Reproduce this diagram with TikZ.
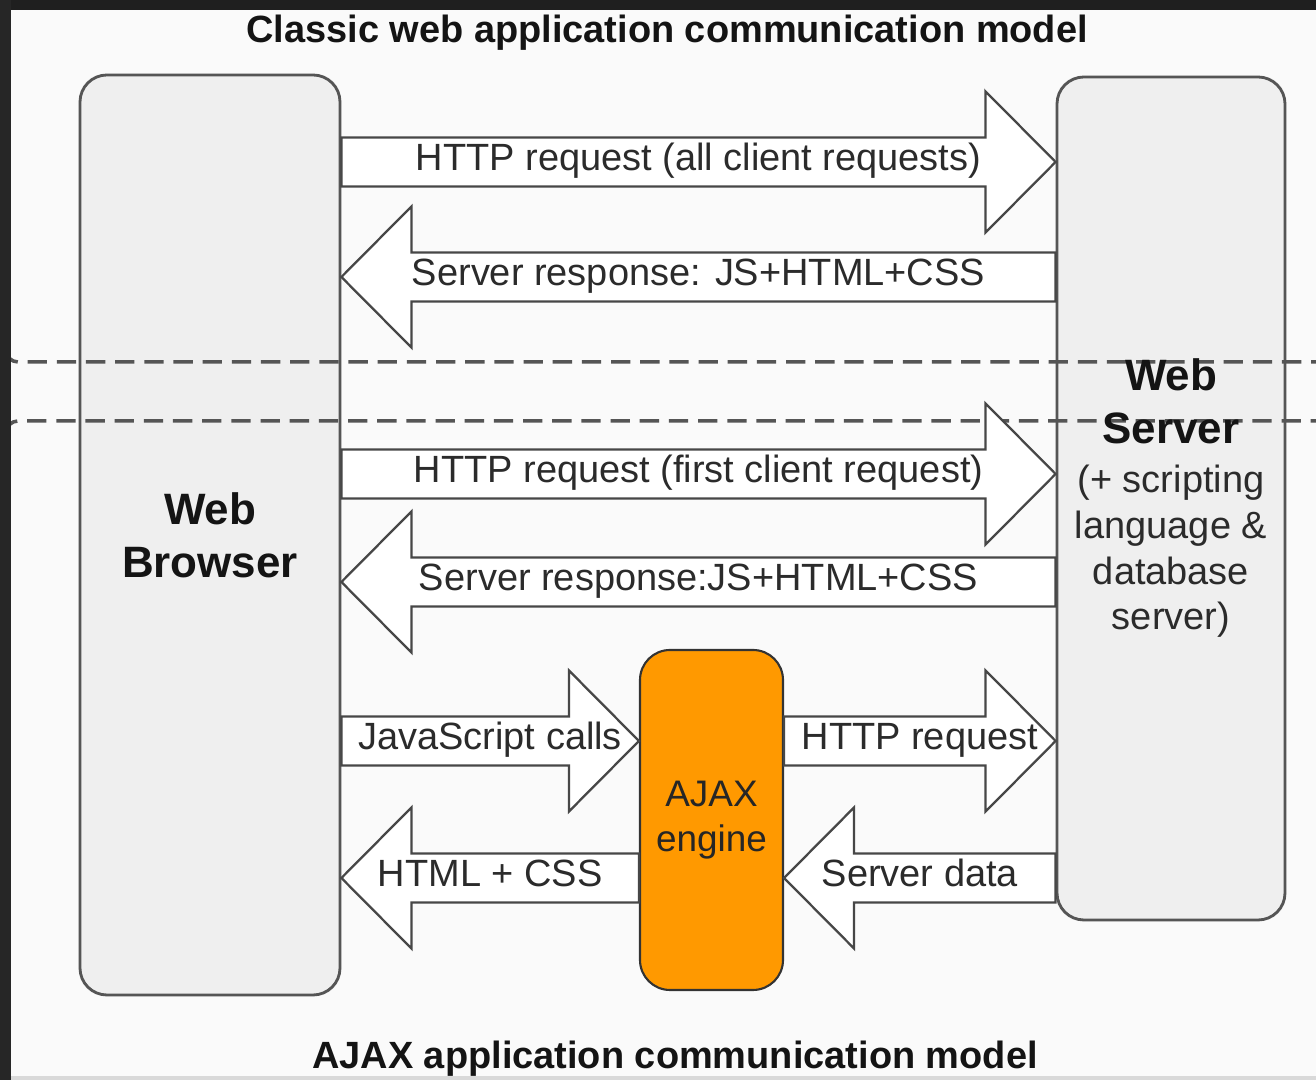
\documentclass[tikz,border=0pt]{standalone}
\usepackage{fontspec}
\setmainfont{Liberation Sans}
\usetikzlibrary{calc,positioning}
\pgfdeclarelayer{background}
\pgfdeclarelayer{dividers}
\pgfsetlayers{background,dividers,main}

\definecolor{pagegray}{HTML}{FAFAFA}
\definecolor{boxgray}{HTML}{EFEFEF}
\definecolor{linegray}{HTML}{555555}
\definecolor{ajaxorange}{HTML}{FF9900}
\definecolor{textgray}{HTML}{2B2B2B}

\tikzset{
  tier/.style={draw=linegray, line width=0.8pt, rounded corners=0.27cm, align=center,
    inner sep=0pt, font=\fontsize{10.8}{13}\selectfont, text=textgray},
  engine/.style={draw=black!80, line width=0.6pt, fill=ajaxorange, rounded corners=0.3cm,
    align=center, inner sep=0pt, font=\fontsize{10.5}{13}\selectfont, text=black!85},
  blockarrow/.style={draw=black!72, line width=0.65pt, fill=white},
  arrowlabel/.style={font=\fontsize{10.8}{13}\selectfont, text=textgray, inner sep=0pt,
    text height=0.72em, text depth=0.22em},
  caption/.style={font=\bfseries\fontsize{10.8}{13}\selectfont, text=black!92, anchor=base},
  divider/.style={draw=linegray, line width=1pt, dash pattern=on 5.5pt off 2.8pt, rounded corners=0.12cm}
}

\newcommand{\tiername}[1]{{\bfseries\fontsize{12.5}{15}\selectfont\color{black!92}#1}}

% block arrow: tail, tip, signed head length, label name, label text
\newcommand{\bigarrow}[5]{%
  \draw[blockarrow] let \p1=(#1), \p2=(#2) in
    (\x1,\y1+0.245cm) -- ({\x2-(#3)},\y1+0.245cm) -- ({\x2-(#3)},\y1+0.705cm)
    -- (\x2,\y1) -- ({\x2-(#3)},\y1-0.705cm) -- ({\x2-(#3)},\y1-0.245cm)
    -- (\x1,\y1-0.245cm) -- cycle;
  \node[arrowlabel] (#4) at ($(#1)!0.5!(#2)$) {#5};}

\begin{document}
\begin{tikzpicture}
\useasboundingbox (0,0) rectangle (13.16,10.80);

% the three boxes
\node[tier, minimum width=2.60cm, minimum height=9.20cm] (browser) at (2.10,5.45)
  {\tiername{Web}\\[2pt]\tiername{Browser}};
\node[tier, minimum width=2.28cm, minimum height=8.43cm] (server) at (11.71,5.815)
  {\tiername{Web}\\[2pt]\tiername{Server}\\[1pt](+ scripting\\language \&\\database\\server)};
\node[engine, minimum width=1.43cm, minimum height=3.40cm] (ajax) at (7.115,2.60)
  {AJAX\\engine};

\begin{pgfonlayer}{background}
  \fill[pagegray] (0,0) rectangle (13.16,10.80);
  \foreach \b in {browser,server}
    \fill[boxgray, rounded corners=0.27cm] (\b.south west) rectangle (\b.north east);
\end{pgfonlayer}

% classic / ajax separation
\begin{pgfonlayer}{dividers}
  \draw[divider] (0.06,7.60) -- (0.06,7.18) -- (13.30,7.18);
  \draw[divider] (13.30,6.59) -- (0.06,6.59) -- (0.06,0.30);
\end{pgfonlayer}

% rows of the arrows
\coordinate (r1) at (0,9.18);
\coordinate (r2) at (0,8.03);
\coordinate (r3) at (0,6.06);
\coordinate (r4) at (0,4.98);
\coordinate (r5) at (0,3.39);
\coordinate (r6) at (0,2.02);

\bigarrow{browser.east |- r1}{server.west |- r1}{0.70cm}{req1}{HTTP request (all client requests)}
\bigarrow{server.west |- r2}{browser.east |- r2}{-0.70cm}{resp1}{Server response: JS+HTML+CSS}
\bigarrow{browser.east |- r3}{server.west |- r3}{0.70cm}{req2}{HTTP request (first client request)}
\bigarrow{server.west |- r4}{browser.east |- r4}{-0.70cm}{resp2}{Server response:JS+HTML+CSS}
\bigarrow{browser.east |- r5}{ajax.west |- r5}{0.70cm}{jscalls}{JavaScript calls}
\bigarrow{ajax.west |- r6}{browser.east |- r6}{-0.70cm}{htmlcss}{HTML + CSS}
\bigarrow{ajax.east |- r5}{server.west |- r5}{0.70cm}{req3}{HTTP request}
\bigarrow{server.west |- r6}{ajax.east |- r6}{-0.70cm}{srvdata}{Server data}

% titles
\node[caption] (classic) at (6.67,10.37) {Classic web application communication model};
\node[caption] (ajaxmodel) at (6.75,0.11) {AJAX application communication model};

% dark frame edges
\fill[black!88] (0,10.70) rectangle (13.16,10.80);
\fill[black!85] (0,0) rectangle (0.11,10.80);
\fill[black!15] (0.11,0) rectangle (13.16,0.04);
\end{tikzpicture}
\end{document}
